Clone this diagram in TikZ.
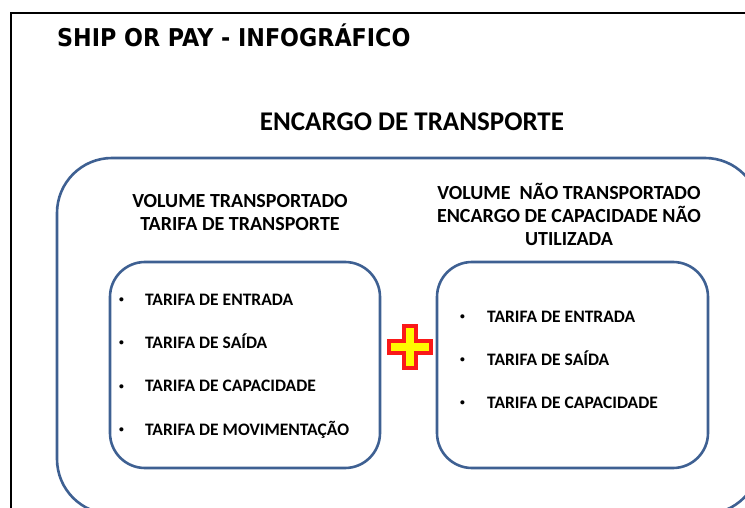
\documentclass[tikz,border=0pt]{standalone}
\usepackage{fontspec}
\usepackage{graphicx}
\setmainfont{Carlito}
\newfontfamily\titlefont{DejaVu Sans}[FakeStretch=0.908]
\definecolor{boxblue}{RGB}{62,96,146}
\definecolor{plusred}{RGB}{250,24,24}
\definecolor{plusyellow}{RGB}{255,250,0}
\newcommand{\marcador}{\raisebox{0.16em}{\scalebox{0.55}{\textbullet}}}

\begin{document}
\begin{tikzpicture}[x=1pt,y=-1pt,
    caixa/.style={draw=boxblue,line width=2.6pt,rounded corners=#1},
    cabec/.style={font=\bfseries\fontsize{20}{23}\selectfont,align=center,inner sep=0pt},
    item/.style={font=\bfseries\fontsize{17.5}{20}\selectfont,anchor=base west,inner sep=0pt}]
        \useasboundingbox (0,0) rectangle (745,508);
        \clip (0,0) rectangle (745,508);
        \draw[line width=1.2pt] (11,600) -- (11,13) -- (800,13);
        \node[anchor=base west,inner sep=0pt,font=\titlefont\bfseries\fontsize{24.5}{28}\selectfont] (titulo) at (57,47) {SHIP OR PAY - INFOGRÁFICO};
        \node[inner sep=0pt,font=\bfseries\fontsize{27}{30}\selectfont] (encargo) at (412,122) {ENCARGO DE TRANSPORTE};
        % caixas
        \draw[caixa=55pt] (57,158) rectangle (760,514);
        \draw[caixa=35pt] (110,262) rectangle (380,468);
        \draw[caixa=35pt] (437,262) rectangle (708,468);
        \node[cabec] (volume) at (240,213) {VOLUME TRANSPORTADO\\TARIFA DE TRANSPORTE};
        \node[cabec] (naovolume) at (569,214) {VOLUME~~NÃO TRANSPORTADO\\ENCARGO DE CAPACIDADE NÃO\\UTILIZADA};
        % itens
        \foreach \txt [count=\i] in {TARIFA DE ENTRADA,TARIFA DE SAÍDA,TARIFA DE CAPACIDADE,TARIFA DE MOVIMENTAÇÃO}
            \node[item] (esq\i) at (119,305+43.4*\i-43.4) {\makebox[26pt][l]{\marcador}\txt};
        \foreach \txt [count=\i] in {TARIFA DE ENTRADA,TARIFA DE SAÍDA,TARIFA DE CAPACIDADE}
            \node[item] (dir\i) at (460,322+43.2*\i-43.2) {\makebox[27pt][l]{\marcador}\txt};
        % sinal de mais
        \draw[fill=plusyellow,draw=plusred,line width=4pt,miter limit=10]
            (403.5,325.5) -- ++(12,0) -- ++(0,15) -- ++(15,0) -- ++(0,12) -- ++(-15,0) -- ++(0,15)
            -- ++(-12,0) -- ++(0,-15) -- ++(-15,0) -- ++(0,-12) -- ++(15,0) -- cycle;
    \end{tikzpicture}
\end{document}
